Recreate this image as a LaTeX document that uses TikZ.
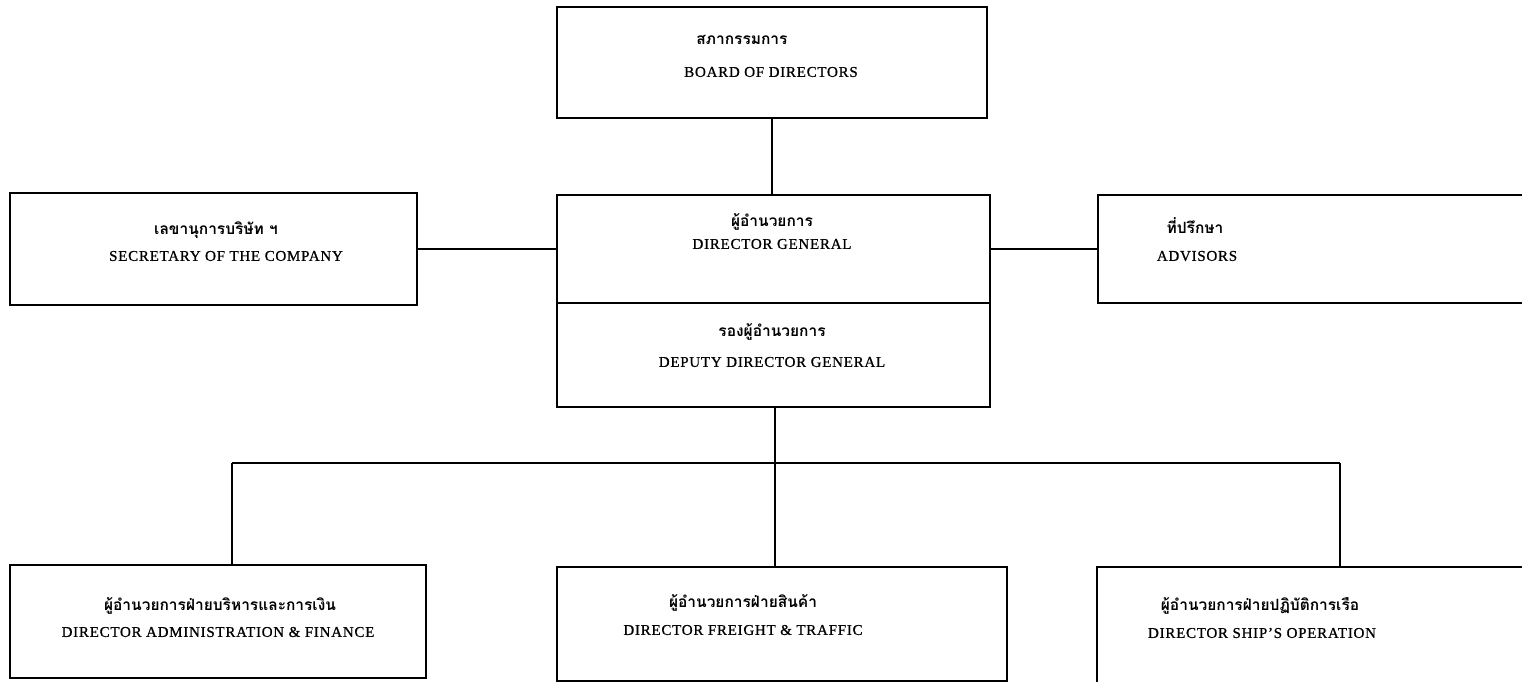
\documentclass[tikz,border=0pt]{standalone}
\usepackage{fontspec}
\setmainfont{Liberation Serif}[LetterSpace=5,FakeBold=0.8]
\newfontfamily\thaifont[Script=Thai]{Loma}
\begin{document}
\begin{tikzpicture}[x=1pt,y=-1pt,
  orgbox/.style={draw, line width=1.2pt, inner sep=0pt},
  conn/.style={line width=1.2pt},
  th/.style={font=\thaifont\bfseries\fontsize{15.5}{18}\selectfont, inner sep=0pt},
  en/.style={font=\fontsize{15}{18}\selectfont, inner sep=0pt}]
\useasboundingbox (0,0) rectangle (1522,681);
\begin{scope}
\clip (0,0) rectangle (1522,681);
% boxes
\node[orgbox, minimum width=430pt, minimum height=111pt] (board) at (772,62.5) {};
\node[orgbox, minimum width=407pt, minimum height=112pt] (sec) at (213.5,249) {};
\node[orgbox, minimum width=433pt, minimum height=108pt] (dg) at (773.5,249) {};
\node[orgbox, minimum width=433pt, minimum height=104pt] (ddg) at (773.5,355) {};
\node[orgbox, minimum width=480pt, minimum height=108pt] (adv) at (1338,249) {};
\node[orgbox, minimum width=416pt, minimum height=113pt] (daf) at (218,621.5) {};
\node[orgbox, minimum width=450pt, minimum height=114pt] (dft) at (782,624) {};
\node[orgbox, minimum width=480pt, minimum height=130pt] (dso) at (1337,632) {};
% texts
\node[th] (t1) at (742,40) {สภากรรมการ};
\node[en] (e1) at (771,72) {BOARD OF DIRECTORS};
\node[th] (t2) at (216,230) {เลขานุการบริษัท ฯ};
\node[en] (e2) at (226,256) {SECRETARY OF THE COMPANY};
\node[th] (t3) at (772,222) {ผู้อำนวยการ};
\node[en] (e3) at (772,244) {DIRECTOR GENERAL};
\node[th] (t4) at (772,332) {รองผู้อำนวยการ};
\node[en] (e4) at (772,362) {DEPUTY DIRECTOR GENERAL};
\node[th] (t5) at (1195,226) {ที่ปรึกษา};
\node[en] (e5) at (1197,256) {ADVISORS};
\node[th] (t6) at (220,606) {ผู้อำนวยการฝ่ายบริหารและการเงิน};
\node[en] (e6) at (218,632) {DIRECTOR ADMINISTRATION \& FINANCE};
\node[th] (t7) at (743,603) {ผู้อำนวยการฝ่ายสินค้า};
\node[en] (e7) at (743,630) {DIRECTOR FREIGHT \& TRAFFIC};
\node[th] (t8) at (1260,606) {ผู้อำนวยการฝ่ายปฏิบัติการเรือ};
\node[en] (e8) at (1262,633) {DIRECTOR SHIP'S OPERATION};
% connectors
\coordinate (busL) at (232,463);
\coordinate (busM) at (775,463);
\coordinate (busR) at (1340,463);
\draw[conn] (board.south) -- (board.south |- dg.north);
\draw[conn] (sec.east) -- (dg.west);
\draw[conn] (dg.east) -- (adv.west);
\draw[conn] (busM |- ddg.south) -- (busM);
\draw[conn] (busL) -- (busR);
\draw[conn] (busL) -- (busL |- daf.north);
\draw[conn] (busM) -- (busM |- dft.north);
\draw[conn] (busR) -- (busR |- dso.north);
\end{scope}
\end{tikzpicture}
\end{document}
